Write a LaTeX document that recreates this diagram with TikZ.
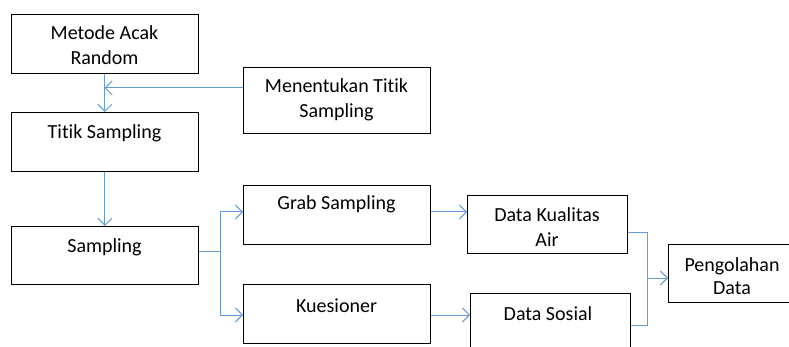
\documentclass[tikz,border=0pt]{standalone}
\usepackage{fontspec}
\setmainfont{Carlito}[Ligatures={NoCommon}]
\usetikzlibrary{arrows.meta}
\definecolor{linkblue}{RGB}{100,155,210}
\begin{document}
\begin{tikzpicture}[x=1pt,y=-1pt,
  box/.style={draw=black, line width=0.9pt, inner sep=0pt, anchor=north west,
    minimum width=187pt, minimum height=59pt},
  lbl/.style={font=\fontsize{20}{25}\selectfont, align=center, inner sep=0pt, anchor=base},
  link/.style={draw=linkblue, line width=1pt},
  flow/.style={link, -{Straight Barb[length=7pt,width=14pt,line width=1pt]}}]
\useasboundingbox (0,0) rectangle (789,347);
\fill[white] (0,0) rectangle (789,347);
\clip (0,0) rectangle (789,347);

% boxes
\node[box] (acak) at (11,14) {};
\node[box, minimum height=66pt] (tentu) at (243,67) {};
\node[box] (titik) at (11,112) {};
\node[box, minimum height=58pt] (samp) at (11,226) {};
\node[box] (grab) at (243,185) {};
\node[box] (kues) at (243,284) {};
\node[box, minimum width=160pt, minimum height=58pt] (dka) at (467,195) {};
\node[box, minimum width=160pt, minimum height=58pt] (dsos) at (470,293) {};
\node[box, minimum width=130pt, minimum height=58pt] (olah) at (668,244) {};

% labels (anchored at the baseline of the last line)
\node[lbl] (tacak) at (104.5,65) {Metode Acak\\Random};
\node[lbl] (ttentu) at (336.5,118) {Menentukan Titik\\Sampling};
\node[lbl] (ttitik) at (104.5,139) {Titik Sampling};
\node[lbl] (tsamp) at (104.5,252) {Sampling};
\node[lbl] (tgrab) at (336.5,210) {Grab Sampling};
\node[lbl] (tkues) at (336.5,312) {Kuesioner};
\node[lbl] (tdka) at (547,247) {Data Kualitas\\Air};
\node[lbl] (tdsos) at (548,320) {Data Sosial};
\node[lbl] (tolah) at (732,294) {Pengolahan\\[-3pt]Data};

% connectors
\coordinate (merge) at (104.5,88);
\draw[flow] (acak.south) -- (titik.north);
\draw[flow] (tentu.west |- merge) -- (merge);
\draw[flow] (titik.south) -- (samp.north);

\coordinate (fork) at (220,252);
\draw[link] (samp.east |- fork) -- (fork);
\draw[flow] (fork) |- (grab.west |- 0,212);
\draw[flow] (fork) |- (kues.west |- 0,315);
\draw[flow] (grab.east |- 0,212) -- (dka.west |- 0,212);
\draw[flow] (kues.east |- 0,315) -- (dsos.west |- 0,315);

\coordinate (join) at (647,278);
\draw[link] (dka.east |- 0,233) -| (join);
\draw[link] (dsos.east |- 0,325) -| (join);
\draw[flow] (join) -- (olah.west |- join);
\end{tikzpicture}
\end{document}
